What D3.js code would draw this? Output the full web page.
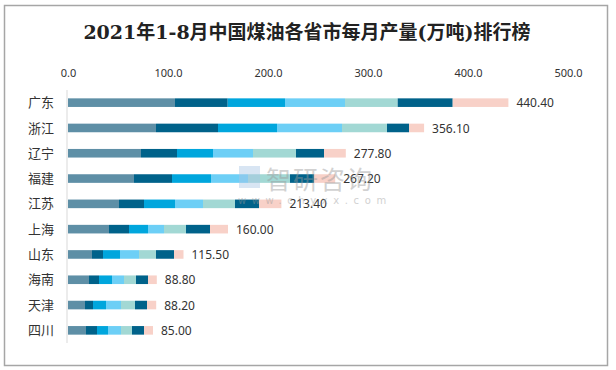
<!DOCTYPE html>
<html>
<head>
<meta charset="utf-8">
<script src="https://cdn.jsdelivr.net/npm/d3@7"></script>
<style>
  body { margin: 0; background: #fff; }
  svg { display: block; }
</style>
</head>
<body>
<svg width="616" height="370"></svg>
<script>
var provinces = ["广东", "浙江", "辽宁", "福建", "江苏", "上海", "山东", "海南", "天津", "四川"];
var months = ["1-2月", "3月", "4月", "5月", "6月", "7月", "8月"];
var totals = [440.4, 356.1, 277.8, 267.2, 213.4, 160.0, 115.5, 88.8, 88.2, 85.0];

// monthly output per province, one array per month group
var m12 = [107, 88, 73, 66, 51, 41, 24, 21, 17, 18];
var m3  = [52.7, 62, 36, 38, 25, 20, 11, 10, 8, 11];
var m4  = [57.3, 59, 36, 39, 31, 19, 17, 13, 13, 11];
var m5  = [60, 65, 40, 37, 28, 16, 19, 12, 15, 13];
var m6  = [52.7, 45, 43, 42, 32, 22, 17, 12, 14, 11];
var m7  = [55, 22, 28, 24, 24, 24, 18, 12, 12, 12];
var m8  = [55.7, 15.1, 21.8, 21.2, 22.4, 18, 9.5, 8.8, 9.2, 9];

var xTicks = [0, 100, 200, 300, 400, 500];
var colors = ["#5e8fa6", "#00628a", "#00a6dd", "#6dcff6", "#a2d8d4", "#00628a", "#f8d1c8"];

var svg = d3.select("svg");

svg.append("rect")
    .attr("x", 4.5).attr("y", 5.5)
    .attr("width", 603).attr("height", 360)
    .attr("fill", "#fff")
    .attr("stroke", "#a6a6a6")
    .attr("stroke-width", 1.5);

svg.append("text")
    .attr("x", 307).attr("y", 39)
    .attr("text-anchor", "middle")
    .style("font-family", "'DejaVu Serif', 'Noto Sans CJK SC', serif")
    .style("font-weight", "bold")
    .style("font-size", "19px")
    .style("fill", "#222")
    .text("2021年1-8月中国煤油各省市每月产量(万吨)排行榜");

var table = provinces.map(function(p, i) {
  return { name: p, "1-2月": m12[i], "3月": m3[i], "4月": m4[i], "5月": m5[i],
           "6月": m6[i], "7月": m7[i], "8月": m8[i], total: totals[i] };
});

var x = d3.scaleLinear().domain([0, 500]).range([68, 568]);
var y = d3.scaleBand().domain(provinces).range([90, 343])
    .paddingInner(0.66).paddingOuter(0.33);

var series = d3.stack().keys(months)(table);

// top axis labels only
var xAxis = svg.append("g")
    .attr("transform", "translate(0,77)")
    .call(d3.axisTop(x).tickValues(xTicks).tickFormat(d3.format(".1f")).tickSize(0).tickPadding(0));
xAxis.select(".domain").remove();
xAxis.selectAll("text")
    .style("font-family", "'Noto Sans', sans-serif")
    .style("font-size", "11px")
    .style("fill", "#333");

svg.append("line")
    .attr("x1", 67).attr("x2", 67)
    .attr("y1", 90).attr("y2", 343)
    .attr("stroke", "#d9d9d9")
    .attr("stroke-width", 1);

svg.append("g").selectAll("g")
  .data(series)
  .enter().append("g")
    .attr("fill", function(d, i) { return colors[i]; })
  .selectAll("rect")
  .data(function(d) { return d; })
  .enter().append("rect")
    .attr("x", function(d) { return x(d[0]); })
    .attr("y", function(d) { return y(d.data.name); })
    .attr("width", function(d) { return x(d[1]) - x(d[0]); })
    .attr("height", y.bandwidth());

svg.append("g").selectAll("text")
  .data(table)
  .enter().append("text")
    .attr("x", 54)
    .attr("y", function(d) { return y(d.name) + y.bandwidth() / 2; })
    .attr("dy", "0.35em")
    .attr("text-anchor", "end")
    .style("font-family", "'Noto Sans CJK SC', sans-serif")
    .style("font-size", "13px")
    .style("fill", "#333")
    .text(function(d) { return d.name; });

svg.append("g").selectAll("text")
  .data(table)
  .enter().append("text")
    .attr("x", function(d) { return x(d.total) + 8; })
    .attr("y", function(d) { return y(d.name) + y.bandwidth() / 2; })
    .attr("dy", "0.38em")
    .style("font-family", "'Noto Sans', sans-serif")
    .style("font-size", "12px")
    .style("fill", "#333")
    .text(function(d) { return d.total.toFixed(2); });

// watermark
var wm = svg.append("g").style("opacity", 0.45);
wm.append("rect")
    .attr("x", 239).attr("y", 166).attr("width", 21).attr("height", 22)
    .attr("fill", "#a9c6e6");
wm.append("text")
    .attr("x", 266).attr("y", 189)
    .style("font-family", "'Noto Sans CJK SC', sans-serif")
    .style("font-size", "25px")
    .style("fill", "#9a9a9a")
    .style("letter-spacing", "2px")
    .text("智研咨询");
wm.append("text")
    .attr("x", 238).attr("y", 204)
    .style("font-family", "'DejaVu Sans', sans-serif")
    .style("font-size", "10px")
    .style("fill", "#9a9a9a")
    .style("letter-spacing", "5.6px")
    .text("www.chyxx.com");
</script>
</body>
</html>
